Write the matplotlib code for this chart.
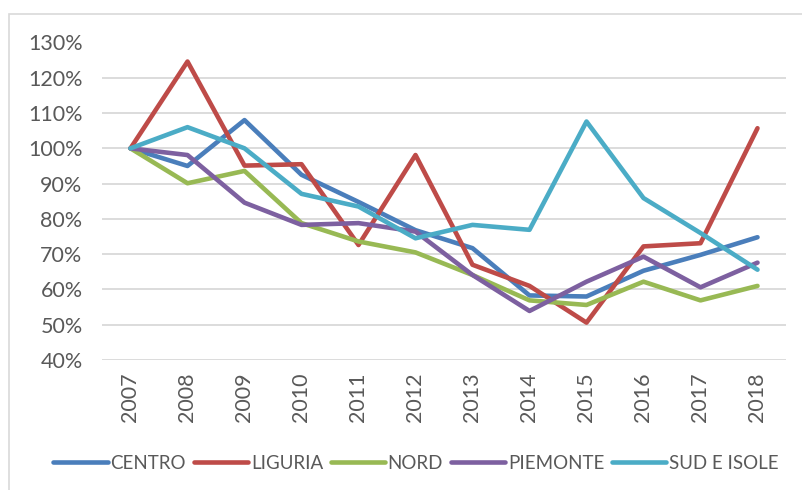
import matplotlib
matplotlib.use("Agg")
import matplotlib.pyplot as plt
from matplotlib.patches import Rectangle
from matplotlib.ticker import FuncFormatter

plt.rcParams["font.family"] = ["Lato", "DejaVu Sans"]

years = ["2007", "2008", "2009", "2010", "2011", "2012",
         "2013", "2014", "2015", "2016", "2017", "2018"]

centro = [100, 95.0, 108.0, 92.5, 84.8, 76.8, 71.7, 58.3, 58.0, 65.3, 69.8, 74.8]
liguria = [100, 124.6, 95.1, 95.5, 72.6, 98.1, 67.0, 61.0, 50.6, 72.2, 73.1, 105.7]
nord = [100, 90.1, 93.6, 78.8, 73.6, 70.5, 64.1, 56.9, 55.6, 62.2, 56.9, 61.0]
piemonte = [100, 98.1, 84.6, 78.3, 78.8, 76.4, 64.1, 53.9, 62.2, 69.3, 60.6, 67.6]
sud_isole = [100, 106.0, 100.0, 87.1, 83.5, 74.5, 78.3, 76.9, 107.6, 85.9, 76.0, 65.6]

series = [
    ("CENTRO", centro, "#4A7EBB"),
    ("LIGURIA", liguria, "#BE4B48"),
    ("NORD", nord, "#98B954"),
    ("PIEMONTE", piemonte, "#7D60A0"),
    ("SUD E ISOLE", sud_isole, "#4BACC6"),
]

fig = plt.figure(figsize=(8.03, 4.90), dpi=100)
ax = fig.add_axes([102 / 803, 130 / 490, 684 / 803, 317.5 / 490])

# light frame around the chart area
fig.patches.append(Rectangle((9 / 803, -0.1), 1.0, 1 - 14 / 490 + 0.1,
                             transform=fig.transFigure, fill=False,
                             edgecolor="#D9D9D9", linewidth=1.2))

x = range(len(years))
for name, vals, color in series:
    ax.plot(x, vals, color=color, linewidth=3.3, label=name,
            solid_capstyle="round", solid_joinstyle="round")

ax.set_xlim(-0.5, len(years) - 0.5)
ax.set_ylim(40, 130)
ax.set_yticks(range(40, 131, 10))
ax.yaxis.set_major_formatter(FuncFormatter(lambda v, p: f"{v:.0f}%"))
ax.set_xticks(list(x))
ax.set_xticklabels(years, rotation=90)

ax.grid(axis="y", color="#D9D9D9", linewidth=1.3)
ax.set_axisbelow(True)
for s in ax.spines.values():
    s.set_visible(False)
ax.tick_params(axis="both", length=0, colors="#595959", labelsize=15.5)
ax.tick_params(axis="y", pad=14)
ax.tick_params(axis="x", pad=9)

fig.legend(loc="center", bbox_to_anchor=(0.518, 1 - 463 / 490), ncol=5,
           frameon=False, fontsize=13.5, handlelength=2.9, handletextpad=0.15,
           columnspacing=0.4, labelcolor="#595959")

fig.savefig("out.png", dpi=100)
